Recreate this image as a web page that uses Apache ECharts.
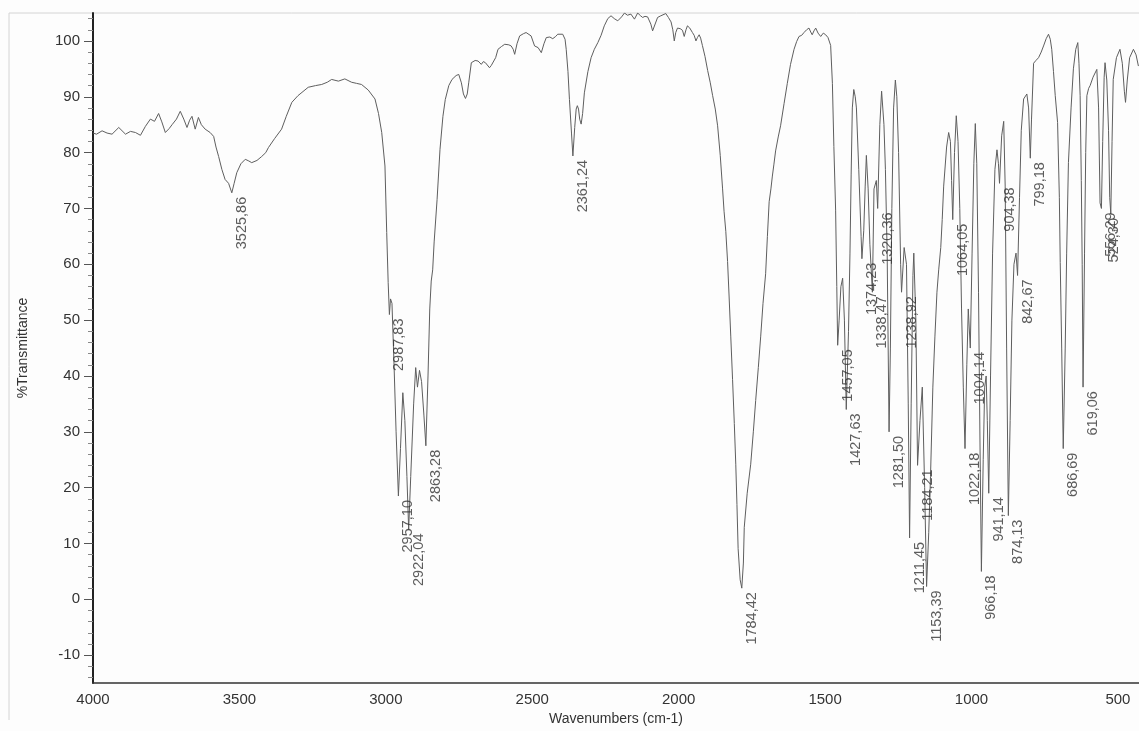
<!DOCTYPE html>
<html>
<head>
<meta charset="utf-8">
<script src="https://cdn.jsdelivr.net/npm/echarts@6/dist/echarts.min.js"></script>
<style>
html,body{margin:0;padding:0;background:#fdfdfd;}
#c{width:1139px;height:731px;}
</style>
</head>
<body>
<div id="c"></div>
<script>
// ---- data ----
const wavenumber = [
4000,3988,3969,3952,3935,3912,3889,3872,3855,3838,3821,3804,3790,3776,3765,3753,3740,3730,3715,3702,
3690,3679,3670,3662,3651,3640,3630,3617,3600,3588,3580,3571,3560,3549,3537,3526,3518,3509,3495,3480,
3468,3458,3440,3424,3410,3401,3380,3356,3340,3321,3300,3265,3240,3219,3200,3185,3162,3140,3117,3100,
3083,3060,3037,3025,3014,3003,2997,2992,2987.83,2984,2979,2972,2965,2957.1,2950,2942,2935,2928,2922.04,2915,
2905,2898,2892,2885,2878,2870,2863.28,2856,2850,2845,2840,2835,2825,2815,2805,2797,2785,2774,2760,2751,
2742,2735,2728,2722,2717,2708,2695,2685,2674,2667,2660,2646,2640,2634,2625,2617,2605,2594,2580,2572,
2565,2560,2552,2543,2530,2521,2504,2492,2480,2469,2460,2452,2440,2430,2420,2413,2396,2388,2384,2378,
2373,2366,2361.24,2355,2350,2346,2342,2338,2333,2328,2322,2310,2299,2288,2276,2265,2254,2242,2231,2220,
2208,2195,2185,2175,2163,2151,2140,2130,2123,2115,2106,2095,2089,2083,2072,2061,2044,2035,2026,2020,
2015,2010,2004,1995,1987,1981,1975,1970,1962,1953,1947,1941,1936,1930,1925,1919,1910,1901,1892,1884,
1875,1867,1858,1850,1845,1839,1833,1828,1822,1816,1810,1805,1801,1797,1790,1784.42,1779,1776,1766,1754,
1745,1737,1728,1720,1712,1703,1697,1691,1685,1680,1675,1669,1660,1652,1640,1629,1618,1606,1597,1589,
1580,1572,1563,1555,1549,1544,1538,1532,1524,1515,1506,1498,1490,1481,1475,1470,1464,1460,1457.05,1452,
1446,1440,1434,1427.63,1420,1415,1411,1407,1402,1397,1393,1385,1377,1374.23,1368,1363,1359,1353,1347,1338.47,
1333,1325,1320.36,1313,1307,1299,1294,1288,1281.5,1277,1272,1266,1260,1255,1249,1242,1238.92,1230,1222,1216,
1211.45,1206,1200,1197,1190,1184.21,1176,1168,1160,1153.39,1146,1140,1132,1125,1118,1112,1105,1100,1095,1085,
1078,1072,1068,1064.05,1058,1052,1046,1040,1034,1028,1022.18,1016,1011,1004.14,998,992,987,982,976,971,
966.18,960,955,950,946,941.14,935,928,920,913,908,904.38,897,890,885,880,874.13,868,862,855,
848,842.67,836,830,822,811,805,799.18,795,788,780,771,762,754,745,737,731,726,720,714,
706,700,697,692,686.69,680,675,669,660,652,644,637,633,629,625,622,619.06,614,610,606,
600,595,585,572,566,561,556.29,552,547,544,538,532,528,524.3,520,516,505,493,485,478,
474,468,460,447,438,430
];
const transmittance = [
83.5,83.3,83.9,83.5,83.3,84.5,83.3,83.8,83.6,83.1,84.7,86.0,85.6,87.0,85.5,83.6,84.3,85.0,86.0,87.4,
86.0,84.5,85.8,86.5,84.2,86.3,85.0,84.2,83.6,82.9,81.0,79.3,77.0,75.2,74.5,72.8,74.5,76.4,78.0,78.8,
78.5,78.2,78.6,79.3,80.0,80.9,82.5,84.2,86.5,89.0,90.2,91.7,92.0,92.2,92.6,93.1,92.8,93.2,92.6,92.4,
92.2,91.2,89.6,87.0,83.6,77.6,65.7,56.7,51.0,53.8,53.0,42.0,30.0,18.5,27.0,37.0,32.0,22.0,12.5,22.0,
35.0,41.5,38.0,41.0,39.0,33.0,27.5,40.0,52.0,57.0,59.0,64.0,71.6,80.6,86.5,89.5,92.0,93.1,93.8,94.0,
92.5,90.5,89.7,90.5,92.5,96.1,96.5,96.4,95.8,96.3,96.1,95.2,95.6,95.8,97.0,98.5,99.0,99.4,99.3,99.1,
98.5,97.6,99.5,100.9,101.3,101.5,100.9,99.1,98.8,97.9,99.5,100.6,100.7,100.4,100.8,101.2,101.2,100.3,98.5,94.5,
89.5,83.5,79.4,84.5,87.8,88.4,87.8,86.0,85.1,87.0,90.7,94.5,97.0,98.5,99.7,101.0,102.7,104.0,104.5,104.0,
103.6,104.3,105.0,104.6,104.8,103.9,105.0,104.5,104.2,104.4,104.3,103.0,101.8,102.0,104.2,104.5,104.9,104.2,103.4,102.0,
100.0,101.5,102.3,102.2,101.9,100.8,102.0,102.7,102.3,101.5,101.0,100.0,100.6,101.1,100.5,99.2,97.2,94.7,92.5,90.2,
87.8,84.8,79.5,73.5,69.5,65.9,60.5,54.5,47.0,39.4,31.5,24.2,17.0,9.1,3.5,2.0,6.5,12.9,19.0,24.2,
30.0,35.6,41.5,47.0,53.0,58.3,65.0,71.2,73.5,75.8,77.8,80.3,82.8,84.8,88.8,92.4,95.8,98.5,99.9,100.8,
101.0,101.5,102.0,102.3,101.6,101.1,101.8,102.3,101.4,100.8,101.4,101.1,100.6,99.2,92.4,81.1,69.7,56.0,45.5,50.0,
56.0,57.5,50.0,34.0,48.0,62.0,76.0,88.0,91.3,90.0,88.0,77.0,65.0,61.0,66.0,74.0,79.5,73.5,63.6,55.0,
73.5,75.0,70.0,85.0,91.0,85.0,77.0,62.0,30.0,45.0,70.0,88.0,93.0,90.0,80.0,60.0,55.0,63.0,60.0,35.0,
11.0,35.0,58.0,62.0,50.0,24.0,32.0,38.0,20.0,2.3,12.0,22.0,38.0,47.0,55.0,59.0,63.0,68.0,74.0,81.0,
83.6,82.0,75.0,68.0,80.0,86.6,82.0,70.0,52.0,38.0,27.0,42.0,52.0,45.0,62.0,78.0,85.2,78.0,55.0,28.0,
5.0,25.0,38.0,40.0,32.0,19.0,40.0,62.0,77.0,80.5,78.0,74.5,83.0,85.6,74.0,45.0,15.0,32.0,50.0,60.0,
62.0,58.0,72.0,84.0,89.6,90.5,88.0,79.0,86.0,96.0,96.5,97.0,98.0,99.1,100.4,101.2,100.3,98.5,94.5,90.2,
85.4,72.0,60.3,45.0,27.0,45.0,62.0,78.2,88.0,95.0,98.5,99.7,96.0,90.2,75.0,60.0,38.0,62.0,80.0,90.2,
91.5,92.0,93.5,94.9,88.0,71.0,70.0,82.0,93.5,96.1,93.0,84.0,72.0,69.0,82.0,93.1,97.0,98.5,96.0,91.0,
89.0,93.0,97.0,98.5,97.5,95.5
];
// peak annotations
const peakText = ['3525,86','2987,83','2957,10','2922,04','2863,28','2361,24','1784,42','1457,05','1427,63','1374,23',
'1338,47','1320,36','1281,50','1238,92','1211,45','1184,21','1153,39','1064,05','1022,18','1004,14',
'966,18','941,14','904,38','874,13','842,67','799,18','686,69','619,06','556,29','524,30'];
const peakWavenumber = [3525.86,2987.83,2957.10,2922.04,2863.28,2361.24,1784.42,1457.05,1427.63,1374.23,
1338.47,1320.36,1281.50,1238.92,1211.45,1184.21,1153.39,1064.05,1022.18,1004.14,
966.18,941.14,904.38,874.13,842.67,799.18,686.69,619.06,556.29,524.30];
const peakTransmittance = [72.8,51.0,18.5,12.5,27.5,79.4,2.0,45.5,34.0,61.0,
55.0,70.0,30.0,55.0,11.0,24.0,2.3,68.0,27.0,45.0,
5.0,19.0,74.5,15.0,58.0,79.0,27.0,38.0,70.0,69.0];
// axis ticks
const xTickLabels = [4000,3500,3000,2500,2000,1500,1000,500];
const yTickLabels = [-10,0,10,20,30,40,50,60,70,80,90,100];
const yMinorTicks = [-14,-12,-8,-6,-4,-2,2,4,6,8,12,14,16,18,22,24,26,28,32,34,36,38,42,44,46,48,52,54,56,58,62,64,66,68,72,74,76,78,82,84,86,88,92,94,96,98,102,104];

const FONT = 'Liberation Sans, Arial, sans-serif';
const chart = echarts.init(document.getElementById('c'), null, {renderer:'canvas'});

const spectrum = wavenumber.map((w,i)=>[w, transmittance[i]]);
// label offset is in the rotated frame: [along text (up), across text (right)]
const peaks = peakWavenumber.map((w,i)=>{
  const dx = peakText[i]==='524,30' ? 3 : 10;
  return {
    value:[w, peakTransmittance[i]],
    label:{formatter: peakText[i], offset:[0, dx]}
  };
});

chart.setOption({
  backgroundColor:'#fdfdfd',
  animation:false,
  graphic:[{
    type:'polyline', silent:true, z:-1,
    shape:{points:[[9,720],[9,13],[1139,13]]},
    style:{stroke:'#d4d4d4', lineWidth:1, fill:null}
  }],
  grid:{left:93, right:0, top:13, bottom:46},
  xAxis:{
    type:'value', inverse:true, min:428, max:4000,
    name:'Wavenumbers (cm-1)', nameLocation:'middle', nameGap:26,
    nameTextStyle:{color:'#333', fontSize:14, fontFamily:FONT},
    axisLine:{onZero:false, lineStyle:{color:'#333', width:1.5}},
    axisTick:{show:false},
    splitLine:{show:false},
    axisLabel:{customValues:xTickLabels, margin:9, color:'#333', fontSize:15, fontFamily:FONT,
      formatter:(v)=>String(v)}
  },
  yAxis:[{
    type:'value', min:-15, max:105,
    name:'%Transmittance', nameLocation:'middle', nameGap:63, nameRotate:90,
    nameTextStyle:{color:'#333', fontSize:14, fontFamily:FONT},
    axisLine:{show:true, onZero:false, lineStyle:{color:'#222', width:2}},
    axisTick:{show:true, customValues:yTickLabels, length:9, lineStyle:{color:'#555', width:1}},
    axisLabel:{customValues:yTickLabels, margin:13, color:'#333', fontSize:15, fontFamily:FONT,
      formatter:(v)=>String(v)},
    splitLine:{show:false}
  },{
    type:'value', min:-15, max:105, position:'left', offset:0,
    axisLine:{show:false},
    axisTick:{show:true, customValues:yMinorTicks, length:5, lineStyle:{color:'#888', width:1}},
    axisLabel:{show:false},
    splitLine:{show:false}
  }],
  series:[{
    type:'line', data:spectrum, yAxisIndex:0,
    symbol:'none', showSymbol:false, clip:true,
    lineStyle:{color:'#5e5e5e', width:1},
    z:2
  },{
    type:'scatter', data:peaks, yAxisIndex:0,
    symbolSize:0, silent:true, z:3,
    label:{
      show:true, position:'bottom', distance:4, rotate:90,
      align:'right', verticalAlign:'middle',
      color:'#333', fontSize:14.5, fontFamily:FONT
    }
  }]
});
</script>
</body>
</html>
